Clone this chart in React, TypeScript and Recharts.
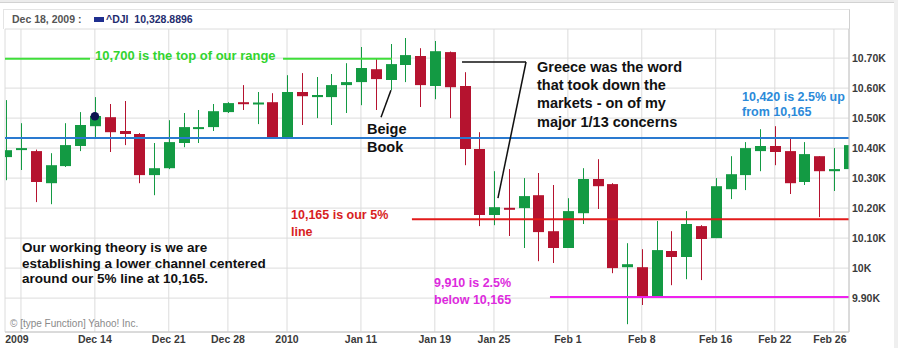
import { ComposedChart, Bar, XAxis, YAxis, CartesianGrid, ReferenceLine, ReferenceDot } from 'recharts';

// trading days Dec 4 2009 .. Mar 1 2010, x = trading-day index (Dec 7 = 0)
const dayIndex = [-1, 0, 1, 2, 3, 4, 5, 6, 7, 8, 9, 10, 11, 12, 13, 14, 15, 16, 17, 18, 19, 20, 21, 22, 23, 24, 25, 26, 27, 28, 29, 30, 31, 32, 33, 34, 35, 36, 37, 38, 39, 40, 41, 42, 43, 44, 45, 46, 47, 48, 49, 50, 51, 52, 53, 54, 55, 56];
const opens = [10370, 10397, 10390, 10283, 10340, 10407, 10473, 10503, 10457, 10447, 10310, 10333, 10417, 10467, 10470, 10520, 10553, 10548, 10553, 10437, 10587, 10570, 10570, 10610, 10620, 10663, 10627, 10677, 10707, 10607, 10720, 10607, 10397, 10177, 10201, 10200, 10243, 10123, 10067, 10183, 10297, 10280, 10003, 10003, 9903, 10057, 10037, 10140, 10100, 10263, 10310, 10390, 10407, 10390, 10287, 10373, 10323, 10330];
const highs = [10560, 10483, 10395, 10383, 10483, 10520, 10570, 10547, 10557, 10450, 10417, 10493, 10517, 10527, 10547, 10553, 10610, 10587, 10583, 10643, 10650, 10637, 10647, 10683, 10737, 10700, 10747, 10767, 10733, 10757, 10722, 10653, 10453, 10323, 10330, 10300, 10317, 10277, 10233, 10333, 10363, 10283, 10083, 10063, 10157, 10123, 10190, 10143, 10300, 10373, 10420, 10463, 10473, 10433, 10420, 10373, 10400, 10450];
const lows = [10293, 10327, 10220, 10213, 10337, 10390, 10433, 10387, 10410, 10283, 10243, 10330, 10403, 10417, 10457, 10517, 10527, 10480, 10433, 10433, 10477, 10500, 10477, 10517, 10543, 10527, 10593, 10620, 10537, 10563, 10500, 10343, 10140, 10143, 10107, 10067, 10023, 10017, 10067, 10147, 10197, 9983, 9813, 9877, 9903, 9943, 9963, 9960, 10100, 10230, 10260, 10323, 10343, 10247, 10277, 10170, 10257, 10330];
const closes = [10393, 10400, 10287, 10343, 10410, 10477, 10507, 10453, 10447, 10310, 10333, 10420, 10470, 10470, 10523, 10550, 10547, 10552, 10437, 10587, 10573, 10577, 10610, 10620, 10667, 10630, 10680, 10710, 10610, 10723, 10603, 10397, 10177, 10203, 10199, 10240, 10120, 10067, 10190, 10297, 10273, 10000, 10013, 9903, 10060, 10037, 10147, 10097, 10273, 10313, 10400, 10407, 10387, 10283, 10380, 10323, 10330, 10410];

const tickIdx = [0, 5, 10, 14, 18, 23, 28, 32, 37, 42, 47, 51, 55];
const tickLabels = ['2009', 'Dec 14', 'Dec 21', 'Dec 28', '2010', 'Jan 11', 'Jan 19', 'Jan 25', 'Feb 1', 'Feb 8', 'Feb 16', 'Feb 22', 'Feb 26'];
const priceTicks = [9900, 10000, 10100, 10200, 10300, 10400, 10500, 10600, 10700];

const GREEN = '#139a43';
const RED = '#b5132f';
const FONT = "'Liberation Sans', Arial, sans-serif";

const data = dayIndex.map((d, i) => ({
  day: d,
  open: opens[i],
  high: highs[i],
  low: lows[i],
  close: closes[i],
  range: [lows[i], highs[i]],
}));

const Candle = (props: any) => {
  const { x, y, width, height, payload } = props;
  const top = Math.min(y, y + height);
  const h = Math.abs(height);
  const span = payload.high - payload.low || 1;
  const py = (v: number) => top + ((payload.high - v) / span) * h;
  const cx = Math.round(x + width / 2) + 0.5;
  const color = payload.close >= payload.open ? GREEN : RED;
  const bTop = py(Math.max(payload.open, payload.close));
  const bBot = py(Math.min(payload.open, payload.close));
  return (
    <g>
      <line x1={cx} x2={cx} y1={top} y2={top + h} stroke={color} strokeWidth={1} />
      <rect x={cx - 5.5} y={bTop} width={11} height={Math.max(bBot - bTop, 2)} fill={color} />
    </g>
  );
};

const XTick = (props: any) => {
  const { x, y, payload, index } = props;
  const i = tickIdx.indexOf(payload.value);
  const shift = index === 0 ? -4 : i === tickIdx.length - 1 ? -4 : 0;
  return (
    <text x={x + shift} y={y} dy="0.71em" textAnchor="middle" fontSize={10.5} fontWeight="bold" fill="#3a3a3a" fontFamily={FONT}>
      {tickLabels[i]}
    </text>
  );
};

const note = (left: number, top: number, color: string, size: number, lh: number, lines: string[]) => (
  <div
    style={{
      position: 'absolute',
      left,
      top,
      color,
      fontSize: size,
      lineHeight: `${lh}px`,
      fontWeight: 'bold',
      fontFamily: FONT,
      whiteSpace: 'nowrap',
      pointerEvents: 'none',
    }}
  >
    {lines.map((l) => (
      <div key={l}>{l}</div>
    ))}
  </div>
);

export default function App() {
  return (
    <div style={{ position: 'absolute', left: 0, top: 0, width: 898, height: 348, background: '#fff', overflow: 'hidden', fontFamily: FONT }}>
      <div style={{ position: 'absolute', left: 0, top: 0, width: 898, height: 2, background: '#ececec', borderBottom: '1px solid #d2d2d2' }} />
      <div style={{ position: 'absolute', right: 0, top: 0, width: 4, height: 348, background: '#efefef' }} />
      <div style={{ position: 'absolute', left: 3, top: 9, width: 845, height: 19, borderTop: '1px solid #e4e4e4', borderLeft: '1px solid #e4e4e4', borderRight: '1px solid #d0d0d0' }} />

      <ComposedChart width={898} height={348} data={data} margin={{ top: 29, right: 4, bottom: 0, left: 5 }}>
        <CartesianGrid stroke="#dcdcdc" />
        <XAxis
          dataKey="day"
          type="number"
          domain={[-1.08, 56.02]}
          allowDataOverflow
          ticks={tickIdx}
          interval={0}
          height={16}
          tickSize={0}
          tickMargin={4}
          tickLine={false}
          axisLine={{ stroke: '#c8c8c8' }}
          tick={<XTick />}
        />
        <YAxis
          orientation="right"
          domain={[9787, 10797]}
          allowDataOverflow
          ticks={priceTicks}
          width={45}
          tickSize={0}
          tickMargin={3}
          tickLine={false}
          axisLine={{ stroke: '#c8c8c8' }}
          tick={{ fontSize: 10.5, fontWeight: 'bold', fill: '#3a3a3a', fontFamily: FONT, textAnchor: 'start' }}
          tickFormatter={(v: number) => (v === 10000 ? '10K' : `${(v / 1000).toFixed(2)}K`)}
        />
        <Bar dataKey="range" barSize={11} shape={<Candle />} isAnimationActive={false} />

        <ReferenceLine segment={[{ x: -1.08, y: 10698 }, { x: 4.67, y: 10698 }]} stroke="#3fde3a" strokeWidth={2} ifOverflow="visible" />
        <ReferenceLine segment={[{ x: 17.73, y: 10698 }, { x: 25.1, y: 10698 }]} stroke="#3fde3a" strokeWidth={2} ifOverflow="visible" />
        <ReferenceLine y={10434} stroke="#2a7ad0" strokeWidth={2} />
        <ReferenceLine segment={[{ x: 26.45, y: 10163 }, { x: 56.02, y: 10163 }]} stroke="#e21a1a" strokeWidth={2} ifOverflow="visible" />
        <ReferenceLine segment={[{ x: 35.79, y: 9904 }, { x: 56.02, y: 9904 }]} stroke="#ee22ee" strokeWidth={2} ifOverflow="visible" />

        <ReferenceLine segment={[{ x: 29.84, y: 10687 }, { x: 34.17, y: 10687 }]} stroke="#111" strokeWidth={1.5} ifOverflow="visible" />
        <ReferenceLine segment={[{ x: 34.17, y: 10687 }, { x: 32.27, y: 10233 }]} stroke="#111" strokeWidth={1.5} ifOverflow="visible" />
        <ReferenceLine segment={[{ x: 25.03, y: 10593 }, { x: 24.36, y: 10503 }]} stroke="#111" strokeWidth={1.5} ifOverflow="visible" />

        <ReferenceDot x={5} y={10506} r={4.3} fill="#0c1550" stroke="none" />
      </ComposedChart>

      <div style={{ position: 'absolute', left: 12, top: 12, fontSize: 10.5, lineHeight: '14px', fontWeight: 'bold', color: '#555', whiteSpace: 'nowrap' }}>
        Dec 18, 2009 :
      </div>
      <div style={{ position: 'absolute', left: 94, top: 17, width: 10, height: 5, background: '#1f2f8f' }} />
      <div style={{ position: 'absolute', left: 106, top: 12, fontSize: 10.5, lineHeight: '14px', fontWeight: 'bold', color: '#1f2d6e', whiteSpace: 'pre' }}>
        {'^DJI  10,328.8896'}
      </div>

      {note(95, 48, '#33d42f', 13, 16, ['10,700 is the top of our range'])}
      {note(742, 89.5, '#2b8ad9', 12.5, 15, ['10,420 is 2.5% up', 'from 10,165'])}
      {note(291, 207, '#d81e1e', 12.5, 16.5, ['10,165 is our 5%', 'line'])}
      {note(434, 274.5, '#dd2bdd', 12.5, 17, ['9,910 is 2.5%', 'below 10,165'])}
      {note(537, 58, '#111', 14.5, 18.2, ['Greece was the word', 'that took down the', 'markets - on of my', 'major 1/13 concerns'])}
      {note(367, 120, '#111', 14.5, 18, ['Beige', 'Book'])}
      {note(22, 240, '#111', 13.5, 15.5, ['Our working theory is we are', 'establishing a lower channel centered', 'around our 5% line at 10,165.'])}
      <div style={{ position: 'absolute', left: 10, top: 318, fontSize: 10, lineHeight: '12px', color: '#8a8a8a', whiteSpace: 'nowrap', fontFamily: FONT }}>
        © [type Function] Yahoo! Inc.
      </div>
    </div>
  );
}
